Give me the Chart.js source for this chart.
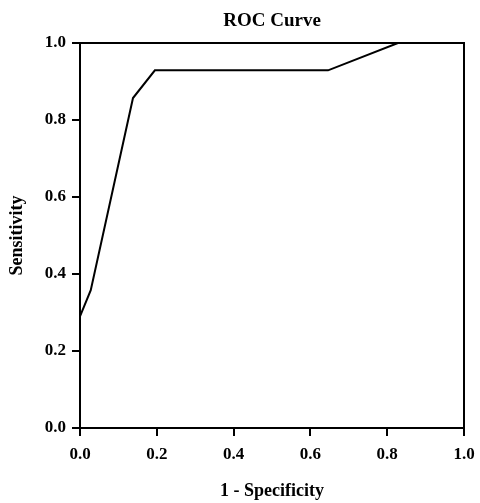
<!DOCTYPE html>
<html>
<head>
<meta charset="utf-8">
<script src="https://cdn.jsdelivr.net/npm/chart.js@4.4.0/dist/chart.umd.min.js"></script>
<style>
    html, body { margin: 0; padding: 0; background: #fff; }
    #wrap { width: 480px; height: 503px; }
</style>
</head>
<body>
<div id="wrap"><canvas id="roc-chart" width="480" height="503"></canvas></div>
<script>
// ROC curve points
var falsePositiveRate = [0, 0.028, 0.138, 0.195, 0.646, 0.828, 1];
var sensitivity = [0.29, 0.358, 0.857, 0.929, 0.929, 1, 1];
var tickValues = [0, 0.2, 0.4, 0.6, 0.8, 1.0];
var chartTitle = 'ROC Curve';

var serif = "'Liberation Serif', 'Times New Roman', serif";

var points = falsePositiveRate.map(function (x, i) {
    return {x: x, y: sensitivity[i]};
});

// box round the plot area, and the title centred over the plot (not the canvas)
var frame = {
    id: 'frame',
    afterDraw: function (chart) {
        var a = chart.chartArea;
        var ctx = chart.ctx;
        ctx.save();
        ctx.strokeStyle = '#000';
        ctx.lineWidth = 2;
        ctx.strokeRect(a.left, a.top, a.right - a.left, a.bottom - a.top);
        ctx.fillStyle = '#000';
        ctx.font = 'bold 19px ' + serif;
        ctx.textAlign = 'center';
        ctx.textBaseline = 'middle';
        ctx.fillText(chartTitle, (a.left + a.right) / 2, 21);
        ctx.restore();
    }
};

function axisOptions(titleText, fitSize, horizontal) {
    return {
        type: 'linear',
        min: 0,
        max: 1,
        afterBuildTicks: function (scale) {
            scale.ticks = tickValues.map(function (v) { return {value: v}; });
        },
        afterFit: function (scale) {
            if (horizontal) {
                scale.height = fitSize;
                scale.paddingLeft = 0;
                scale.paddingRight = 0;
            } else {
                scale.width = fitSize;
                scale.paddingTop = 0;
                scale.paddingBottom = 0;
            }
        },
        border: {display: true, color: '#000', width: 2},
        grid: {
            drawOnChartArea: false,
            color: '#000',
            lineWidth: 2,
            tickLength: 8
        },
        ticks: {
            color: '#000',
            padding: horizontal ? 8 : 6,
            maxRotation: 0,
            font: {family: serif, size: 17, weight: 'bold'},
            callback: function (v) { return Number(v).toFixed(1); }
        },
        title: {
            display: true,
            text: titleText,
            color: '#000',
            font: {family: serif, size: 18, weight: 'bold', lineHeight: 1.1},
            padding: horizontal ? {top: 0, bottom: 2} : {top: 7, bottom: 0}
        }
    };
}

new Chart(document.getElementById('roc-chart'), {
    type: 'scatter',
    data: {
        datasets: [{
            data: points,
            showLine: true,
            borderColor: '#000',
            borderWidth: 2,
            pointRadius: 0,
            tension: 0,
            clip: false
        }]
    },
    options: {
        responsive: false,
        animation: false,
        layout: {padding: {left: 0, right: 16, top: 43, bottom: 0}},
        plugins: {
            legend: {display: false},
            tooltip: {enabled: false},
            title: {display: false}
        },
        scales: {
            x: axisOptions('1 - Specificity', 75, true),
            y: axisOptions('Sensitivity', 80, false)
        }
    },
    plugins: [frame]
});
</script>
</body>
</html>
